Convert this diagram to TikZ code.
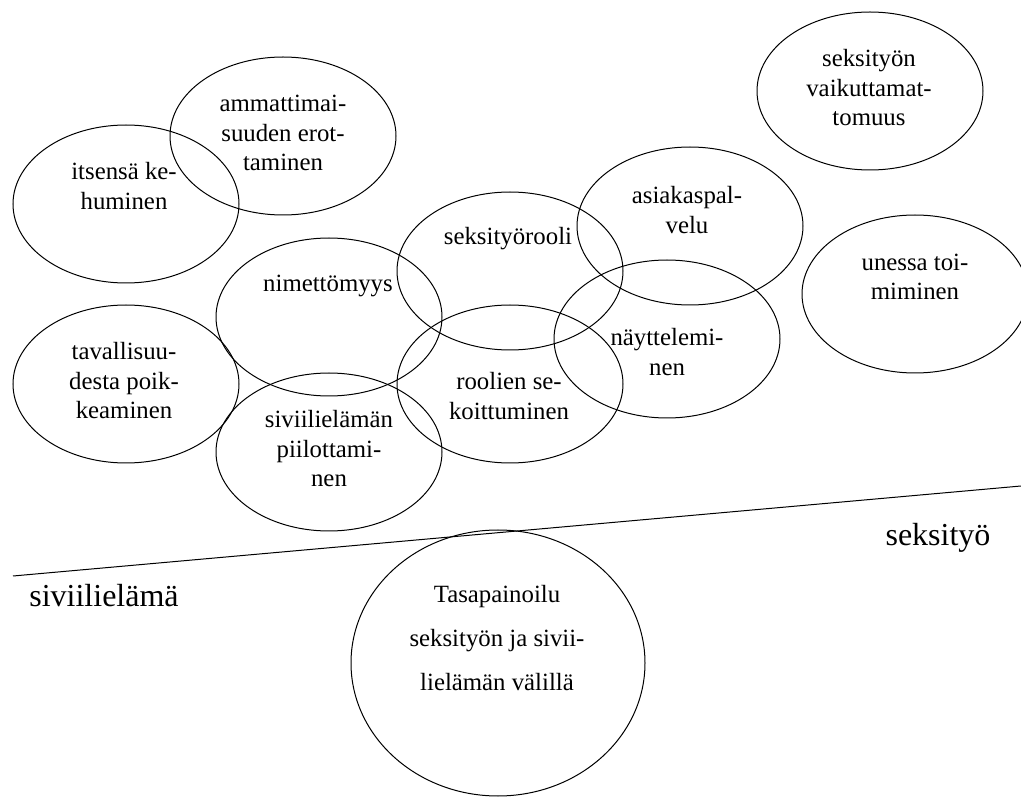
\documentclass[tikz,border=0pt]{standalone}
\usepackage{fontspec}
\setmainfont{Liberation Serif}
\usetikzlibrary{shapes.geometric}
\tikzset{
  ell/.style={draw, ellipse, line width=1pt, inner sep=0pt, minimum width=226pt, minimum height=158pt},
  lbl/.style={align=center, inner sep=0pt, font=\fontsize{24.8}{29.5}\selectfont},
  biglbl/.style={inner sep=0pt, anchor=base, font=\fontsize{32}{38}\selectfont},
  divider/.style={line width=1pt}
}
\begin{document}
\begin{tikzpicture}[x=1pt,y=-1pt]
\useasboundingbox (0,0) rectangle (1021,799);
% ellipses
\node[ell] (e1) at (126,204) {};
\node[ell] (e2) at (283,136) {};
\node[ell] (e3) at (329,317) {};
\node[ell] (e4) at (126,384) {};
\node[ell] (e5) at (510,271) {};
\node[ell] (e6) at (510,384) {};
\node[ell] (e7) at (329,452) {};
\node[ell] (e8) at (690,226) {};
\node[ell] (e9) at (667,339) {};
\node[ell] (e10) at (870,91) {};
\node[ell] (e11) at (915,294) {};
\node[ell, minimum width=294pt, minimum height=266pt] (e12) at (498,663) {};
% texts
\node[lbl] (t1) at (124,186) {itsensä ke-\\huminen};
\node[lbl] (t2) at (283,133) {ammattimai-\\suuden erot-\\taminen};
\node[lbl] (t3) at (328,286) {nimettömyys};
\node[lbl] (t4) at (124,381) {tavallisuu-\\desta poik-\\keaminen};
\node[lbl] (t5) at (508,239) {seksityörooli};
\node[lbl] (t6) at (509,396) {roolien se-\\koittuminen};
\node[lbl] (t7) at (329,449) {siviilielämän\\piilottami-\\nen};
\node[lbl] (t8) at (687,210) {asiakaspal-\\velu};
\node[lbl] (t9) at (667,352) {näyttelemi-\\nen};
\node[lbl] (t10) at (869,88) {seksityön\\vaikuttamat-\\tomuus};
\node[lbl] (t11) at (915,277) {unessa toi-\\miminen};
\node[lbl, font=\fontsize{24.8}{44}\selectfont] (t12) at (497,638) {Tasapainoilu\\seksityön ja sivii-\\lielämän välillä};
% divider
\coordinate (L1) at (13,576);
\coordinate (L2) at (1021,486);
\draw[divider] (L1) -- (L2);
\node[biglbl] (s1) at (104,606) {siviilielämä};
\node[biglbl] (s2) at (938,546) {seksityö};
\end{tikzpicture}
\end{document}
